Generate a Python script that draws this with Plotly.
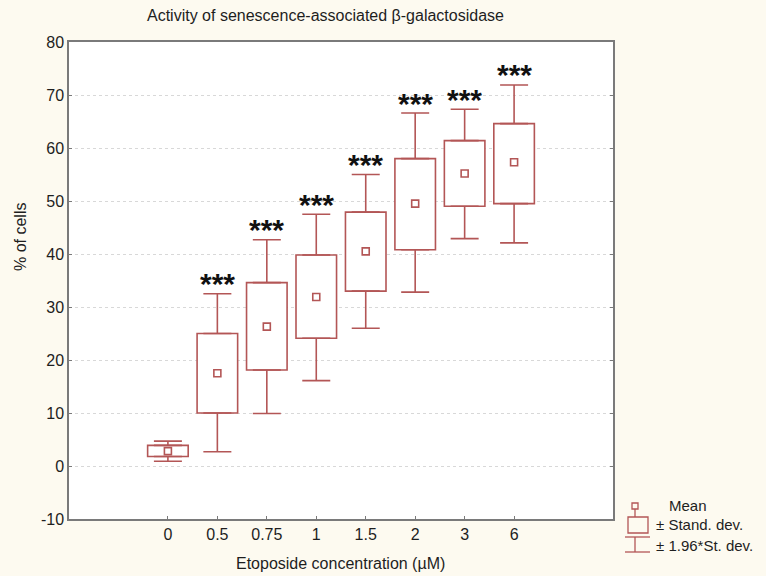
import plotly.graph_objects as go

# ---- data ----
categories = ["0", "0.5", "0.75", "1", "1.5", "2", "3", "6"]
means      = [2.8, 17.5, 26.3, 31.9, 40.5, 49.5, 55.2, 57.3]
sd_low     = [1.8, 10.0, 18.1, 24.1, 33.0, 40.8, 49.0, 49.5]
sd_high    = [3.9, 25.0, 34.6, 39.8, 47.9, 58.0, 61.4, 64.6]
ci_low     = [0.9, 2.7, 9.9, 16.1, 26.0, 32.8, 42.9, 42.1]
ci_high    = [4.7, 32.5, 42.7, 47.5, 55.0, 66.6, 67.3, 71.9]
stars      = ["", "***", "***", "***", "***", "***", "***", "***"]
y_ticks    = [-10, 0, 10, 20, 30, 40, 50, 60, 70, 80]
y_labels   = ["-10", "0", "10", "20", "30", "40", "50", "60", "70", "80"]

RED = "#b35656"
BG = "#fdfaf0"
LW = 1.6
xpos = list(range(len(categories)))

fig = go.Figure()

# box (± SD)
fig.add_trace(go.Bar(
    x=xpos, y=[h - l for h, l in zip(sd_high, sd_low)], base=sd_low,
    width=0.82, marker=dict(color="white", line=dict(color=RED, width=LW)),
    showlegend=False, hoverinfo="skip"))

# upper whiskers
fig.add_trace(go.Scatter(
    x=xpos, y=sd_high, mode="markers", marker=dict(size=1, opacity=0),
    error_y=dict(type="data", symmetric=False,
                 array=[c - s for c, s in zip(ci_high, sd_high)],
                 arrayminus=[0] * len(xpos), color=RED, thickness=LW, width=14),
    showlegend=False, hoverinfo="skip"))
# lower whiskers
fig.add_trace(go.Scatter(
    x=xpos, y=sd_low, mode="markers", marker=dict(size=1, opacity=0),
    error_y=dict(type="data", symmetric=False,
                 array=[0] * len(xpos),
                 arrayminus=[s - c for s, c in zip(sd_low, ci_low)],
                 color=RED, thickness=LW, width=14),
    showlegend=False, hoverinfo="skip"))
# mean markers
fig.add_trace(go.Scatter(
    x=xpos, y=means, mode="markers",
    marker=dict(symbol="square-open", size=7, color=RED, line=dict(width=LW, color=RED)),
    showlegend=False, hoverinfo="skip"))

annotations = []
for x, y, s in zip(xpos, ci_high, stars):
    if s:
        annotations.append(dict(x=x, y=y, text="<b>" + s + "</b>", showarrow=False,
                                xref="x", yref="y", yanchor="middle", yshift=10,
                                font=dict(size=30, color="#111", family="Liberation Sans")))

W0, W1, H0, H1 = 69, 613, 42, 519
def px(x): return (x - W0) / (W1 - W0)
def py(y): return (H1 - y) / (H1 - H0)

txt = dict(family="Liberation Sans, Arial", color="#1e1e1e")
annotations += [
    dict(x=px(325), y=py(15), xref="paper", yref="paper", showarrow=False,
         text="Activity of senescence-associated β-galactosidase",
         font=dict(size=16, **txt), xanchor="center", yanchor="middle"),
    dict(x=px(20), y=py(237), xref="paper", yref="paper", showarrow=False,
         text="% of cells", textangle=-90, font=dict(size=16, **txt),
         xanchor="center", yanchor="middle"),
    dict(x=px(340), y=py(563), xref="paper", yref="paper", showarrow=False,
         text="Etoposide concentration (µM)", font=dict(size=16, **txt),
         xanchor="center", yanchor="middle"),
    dict(x=px(667), y=py(505), xref="paper", yref="paper", showarrow=False,
         text="Mean", font=dict(size=15, **txt), xanchor="left", yanchor="middle"),
    dict(x=px(654), y=py(524), xref="paper", yref="paper", showarrow=False,
         text="± Stand. dev.", font=dict(size=15, **txt), xanchor="left", yanchor="middle"),
    dict(x=px(654), y=py(545), xref="paper", yref="paper", showarrow=False,
         text="± 1.96*St. dev.", font=dict(size=15, **txt), xanchor="left", yanchor="middle"),
]

lg = dict(color=RED, width=1.3)
shapes = [
    dict(type="rect", xref="paper", yref="paper", x0=px(632), x1=px(638), y0=py(509), y1=py(503), line=lg),
    dict(type="line", xref="paper", yref="paper", x0=px(635), x1=px(635), y0=py(509), y1=py(517), line=lg),
    dict(type="rect", xref="paper", yref="paper", x0=px(628), x1=px(648), y0=py(533), y1=py(517), line=lg),
    dict(type="line", xref="paper", yref="paper", x0=px(635), x1=px(635), y0=py(537), y1=py(552), line=lg),
    dict(type="line", xref="paper", yref="paper", x0=px(625), x1=px(650), y0=py(537), y1=py(537), line=lg),
    dict(type="line", xref="paper", yref="paper", x0=px(625), x1=px(650), y0=py(552), y1=py(552), line=lg),
]

fig.update_layout(
    width=766, height=576,
    margin=dict(l=W0, r=766 - W1, t=H0, b=576 - H1),
    paper_bgcolor=BG, plot_bgcolor="white",
    showlegend=False, annotations=annotations, shapes=shapes,
    font=dict(family="Liberation Sans, Arial", color="#1e1e1e", size=16),
    xaxis=dict(range=[-2, 9], tickvals=xpos, ticktext=categories,
               showgrid=False, zeroline=False, showline=True, linecolor="#7a7a7a",
               linewidth=1.5, mirror=True, ticks="inside", ticklen=3, tickcolor="#7a7a7a",
               tickfont=dict(size=16)),
    yaxis=dict(range=[-10, 80], tickvals=y_ticks, ticktext=y_labels, showgrid=True,
               gridcolor="#d8d8d8", griddash="dot", zeroline=False, showline=True,
               linecolor="#7a7a7a", linewidth=1.5, mirror="ticks", ticks="inside",
               ticklen=3, tickcolor="#7a7a7a", tickfont=dict(size=16)),
)

fig.write_html("out.html", config={"displayModeBar": False},
               post_script="document.body.style.margin='0';document.body.style.background='" + BG + "';")
